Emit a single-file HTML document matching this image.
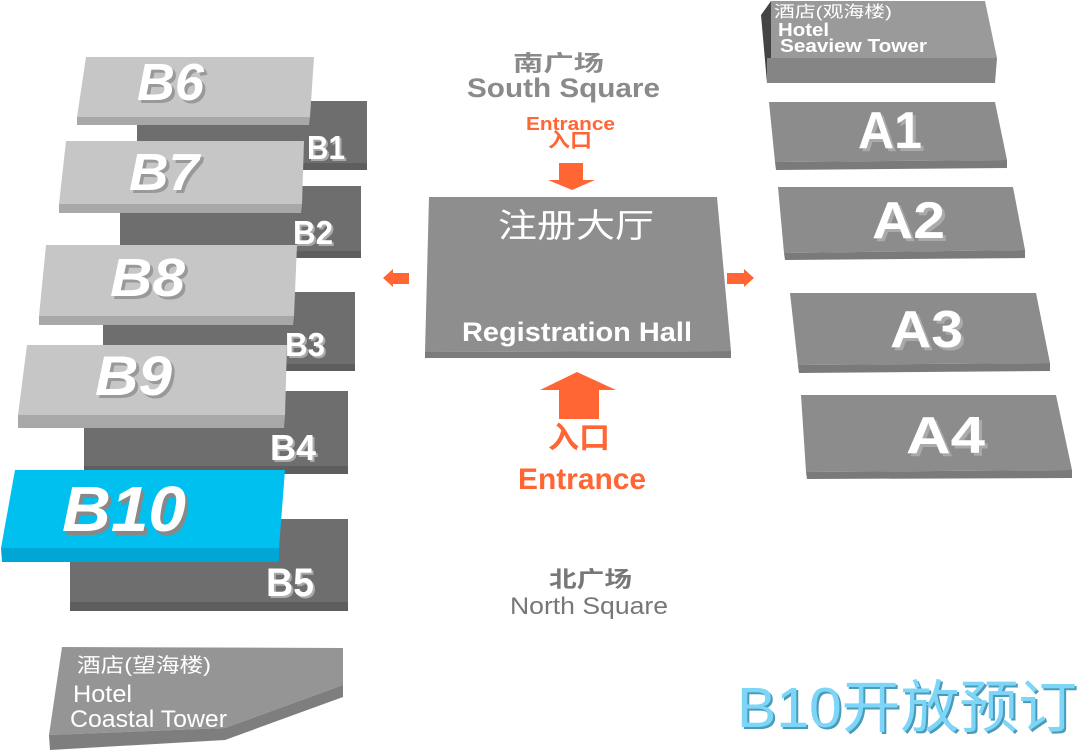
<!DOCTYPE html>
<html><head><meta charset="utf-8"><style>
html,body{margin:0;padding:0;background:#fff;width:1080px;height:752px;overflow:hidden}
svg{display:block}
text{font-family:"Liberation Sans","Noto Sans CJK SC",sans-serif}
</style></head><body>
<svg width="1080" height="752" viewBox="0 0 1080 752" xmlns="http://www.w3.org/2000/svg">
<g fill="#6e6e6e">
<rect x="137" y="101" width="230" height="69"/>
<rect x="120" y="186" width="241" height="72"/>
<rect x="103" y="292" width="252" height="79"/>
<rect x="84" y="391" width="264" height="83"/>
<rect x="70" y="519" width="278" height="92"/>
</g>
<g fill="#5e5e5e">
<rect x="137" y="163" width="230" height="7"/>
<rect x="120" y="251" width="241" height="7"/>
<rect x="103" y="364" width="252" height="7"/>
<rect x="84" y="466" width="264" height="8"/>
<rect x="70" y="602" width="278" height="9"/>
</g>
<g font-weight="bold" fill="#fff">
<text x="309" y="161" font-size="33" fill="#aaa" textLength="38" lengthAdjust="spacingAndGlyphs">B1</text><text x="307" y="159" font-size="33" textLength="38" lengthAdjust="spacingAndGlyphs">B1</text>
<text x="295" y="246" font-size="33" fill="#aaa" textLength="40" lengthAdjust="spacingAndGlyphs">B2</text><text x="293" y="244" font-size="33" textLength="40" lengthAdjust="spacingAndGlyphs">B2</text>
<text x="287" y="358" font-size="33" fill="#aaa" textLength="40" lengthAdjust="spacingAndGlyphs">B3</text><text x="285" y="356" font-size="33" textLength="40" lengthAdjust="spacingAndGlyphs">B3</text>
<text x="272" y="462" font-size="36" fill="#aaa" textLength="46" lengthAdjust="spacingAndGlyphs">B4</text><text x="270" y="460" font-size="36" textLength="46" lengthAdjust="spacingAndGlyphs">B4</text>
<text x="268" y="598" font-size="40" fill="#aaa" textLength="48" lengthAdjust="spacingAndGlyphs">B5</text><text x="266" y="596" font-size="40" textLength="48" lengthAdjust="spacingAndGlyphs">B5</text>
</g>
<g fill="#c6c6c6">
<polygon points="86,57 314,57 310,117 77,117"/>
<polygon points="66,141 304,141 302,204 59,204"/>
<polygon points="46,245 297,245 294,316 39,316"/>
<polygon points="27,345 287,345 285,415 18,415"/>
</g>
<g fill="#a8a8a8">
<polygon points="77,117 310,117 309,125 77,125"/>
<polygon points="59,204 302,204 301,213 59,213"/>
<polygon points="39,316 294,316 293,325 39,325"/>
<polygon points="18,415 285,415 284,428 18,428"/>
</g>
<polygon points="15,470 285,470 279,548 1,548" fill="#00c0f0"/>
<polygon points="1,548 279,548 279,562 2,562" fill="#00a6d6"/>
<g font-weight="bold" font-style="italic" fill="#fff">
<text x="140" y="103" font-size="52" fill="#999" textLength="67" lengthAdjust="spacingAndGlyphs">B6</text><text x="137" y="100" font-size="52" textLength="67" lengthAdjust="spacingAndGlyphs">B6</text>
<text x="132" y="193" font-size="52" fill="#999" textLength="70" lengthAdjust="spacingAndGlyphs">B7</text><text x="129" y="190" font-size="52" textLength="70" lengthAdjust="spacingAndGlyphs">B7</text>
<text x="113" y="299" font-size="54" fill="#999" textLength="75" lengthAdjust="spacingAndGlyphs">B8</text><text x="110" y="296" font-size="54" textLength="75" lengthAdjust="spacingAndGlyphs">B8</text>
<text x="98" y="398" font-size="56" fill="#999" textLength="77" lengthAdjust="spacingAndGlyphs">B9</text><text x="95" y="395" font-size="56" textLength="77" lengthAdjust="spacingAndGlyphs">B9</text>
<text x="65" y="535" font-size="64" fill="#888" textLength="124" lengthAdjust="spacingAndGlyphs">B10</text><text x="62" y="531" font-size="64" textLength="124" lengthAdjust="spacingAndGlyphs">B10</text>
</g>
<polygon points="62,647 343,648 343,685 225,728 49,735" fill="#959595"/>
<polygon points="49,735 225,728 343,685 343,697 225,740 50,750" fill="#7e7e7e"/>
<g fill="#fff">
<text x="77" y="672" font-size="20" textLength="134" lengthAdjust="spacingAndGlyphs">酒店(望海楼)</text>
<text x="73" y="702" font-size="24" textLength="59" lengthAdjust="spacingAndGlyphs">Hotel</text>
<text x="70" y="727" font-size="24" textLength="157" lengthAdjust="spacingAndGlyphs">Coastal Tower</text>
</g>
<polygon points="761,15 771,1 771,58 767,83" fill="#444"/>
<polygon points="771,1 985,1 997,58 771,58" fill="#9a9a9a"/>
<polygon points="767,58 997,58 995,83 767,83" fill="#858585"/>
<g fill="#fff" font-weight="bold">
<text x="774" y="17" font-size="16" font-weight="normal" textLength="118" lengthAdjust="spacingAndGlyphs">酒店(观海楼)</text>
<text x="778" y="36" font-size="18" textLength="51" lengthAdjust="spacingAndGlyphs">Hotel</text>
<text x="780" y="52" font-size="18" textLength="147" lengthAdjust="spacingAndGlyphs">Seaview Tower</text>
</g>
<g fill="#8c8c8c">
<polygon points="769,102 995,102 1007,160 775,162"/>
<polygon points="778,187 1013,187 1025,250 784,253"/>
<polygon points="790,293 1036,293 1050,363 798,365"/>
<polygon points="801,395 1056,395 1072,470 806,472"/>
</g>
<g fill="#7a7a7a">
<polygon points="775,162 1007,160 1007,168 776,170"/>
<polygon points="784,253 1025,250 1025,258 785,260"/>
<polygon points="798,365 1050,363 1050,371 799,373"/>
<polygon points="806,472 1072,470 1072,478 807,479"/>
</g>
<g fill="#fff" font-size="52" font-weight="bold">
<text x="861" y="151" fill="#aaa" textLength="64" lengthAdjust="spacingAndGlyphs">A1</text><text x="858" y="148" textLength="64" lengthAdjust="spacingAndGlyphs">A1</text>
<text x="875" y="241" fill="#aaa" textLength="73" lengthAdjust="spacingAndGlyphs">A2</text><text x="872" y="238" textLength="73" lengthAdjust="spacingAndGlyphs">A2</text>
<text x="893" y="350" fill="#aaa" textLength="73" lengthAdjust="spacingAndGlyphs">A3</text><text x="890" y="347" textLength="73" lengthAdjust="spacingAndGlyphs">A3</text>
<text x="909" y="456" fill="#aaa" textLength="79" lengthAdjust="spacingAndGlyphs">A4</text><text x="906" y="453" textLength="79" lengthAdjust="spacingAndGlyphs">A4</text>
</g>
<polygon points="429,197 717,197 731,351 425,352" fill="#8e8e8e"/>
<polygon points="425,352 731,351 731,358 425,358" fill="#7c7c7c"/>
<text x="498" y="237" font-size="33" fill="#fff" textLength="156" lengthAdjust="spacingAndGlyphs">注册大厅</text>
<text x="462" y="341" font-size="27" fill="#fff" font-weight="bold" textLength="230" lengthAdjust="spacingAndGlyphs">Registration Hall</text>
<g fill="#ff6633">
<polygon points="559,163 583,163 583,180 595,180 572,190 548,180 559,180"/>
<polygon points="577,372 616,390 599,390 599,419 559,419 559,390 540,390"/>
<polygon points="383,278 393,269 393,273 409,273 409,284 393,284 393,287"/>
<polygon points="754,278 744,269 744,273 727,273 727,284 744,284 744,287"/>
</g>
<text x="513" y="71" font-size="22" fill="#8a8a8a" font-weight="bold" textLength="91" lengthAdjust="spacingAndGlyphs">南广场</text>
<text x="467" y="97" font-size="27" fill="#8a8a8a" font-weight="bold" textLength="193" lengthAdjust="spacingAndGlyphs">South Square</text>
<text x="526" y="130" font-size="18" fill="#ff6633" font-weight="bold" textLength="89" lengthAdjust="spacingAndGlyphs">Entrance</text>
<text x="548" y="147" font-size="20" fill="#ff6633" font-weight="bold" textLength="44" lengthAdjust="spacingAndGlyphs">入口</text>
<text x="548" y="448" font-size="30" fill="#ff6633" font-weight="bold" textLength="62" lengthAdjust="spacingAndGlyphs">入口</text>
<text x="518" y="489" font-size="30" fill="#ff6633" font-weight="bold" textLength="128" lengthAdjust="spacingAndGlyphs">Entrance</text>
<text x="549" y="587" font-size="22" fill="#777" font-weight="bold" textLength="83" lengthAdjust="spacingAndGlyphs">北广场</text>
<text x="510" y="614" font-size="24" fill="#777" textLength="158" lengthAdjust="spacingAndGlyphs">North Square</text>
<text x="739" y="729" font-size="57" fill="#4a9ab8" textLength="340" lengthAdjust="spacingAndGlyphs">B10开放预订</text>
<text x="737" y="727" font-size="57" fill="#7dd6f7" textLength="340" lengthAdjust="spacingAndGlyphs">B10开放预订</text>
</svg>
</body></html>
